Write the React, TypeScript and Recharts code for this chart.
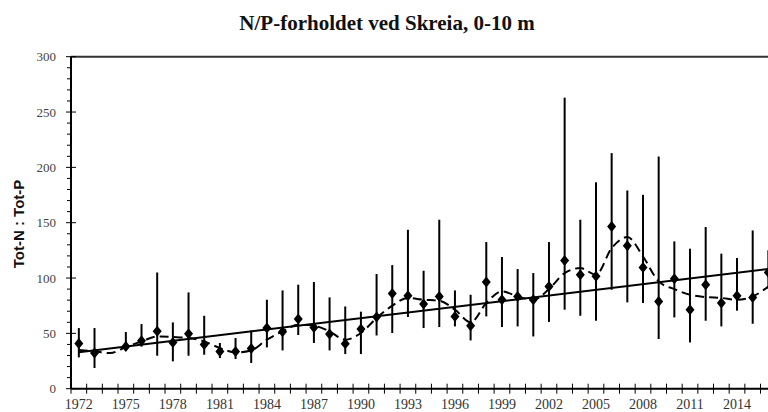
import React from 'react';
import { ComposedChart, Line, XAxis, YAxis, ErrorBar, ReferenceLine } from 'recharts';

const years = [
  1972, 1973, 1974, 1975, 1976, 1977, 1978, 1979, 1980, 1981, 1982, 1983, 1984, 1985, 1986,
  1987, 1988, 1989, 1990, 1991, 1992, 1993, 1994, 1995, 1996, 1997, 1998, 1999, 2000, 2001,
  2002, 2003, 2004, 2005, 2006, 2007, 2008, 2009, 2010, 2011, 2012, 2013, 2014, 2015, 2016,
];

const ratio: (number | null)[] = [
  40.9, 32.2, null, 38.2, 43.4, 51.8, 41.8, 49.7, 40.0, 33.7, 33.7, 36.4, 54.8, 51.5, 63.0,
  55.4, 49.4, 40.6, 53.9, 64.8, 86.1, 84.0, 76.5, 83.4, 65.3, 56.9, 96.4, 80.4, 83.4, 80.4,
  92.4, 115.9, 103.0, 101.5, 146.6, 129.2, 109.6, 78.9, 99.4, 71.4, 93.9, 77.4, 84.0, 82.5, 105.1,
];

const low: (number | null)[] = [
  28.3, 18.7, null, 35, 38, 29.8, 24.7, 29.8, 30.7, 27.7, 26.8, 23.2, 37.3, 34.6, 48.5,
  41.3, 34.6, 31.3, 31.3, 48.1, 50.3, 64.8, 54.8, 55.7, 56.3, 43.6, 65.3, 55.7, 56.3, 47.2,
  60.3, 71.4, 65.9, 61.4, 89.4, 78, 77.4, 44.9, 64.4, 41.8, 61.4, 56.3, 70.5, 58.7, 90,
];

const high: (number | null)[] = [
  54.8, 54.8, null, 51.2, 58.4, 105, 59.9, 87, 65.9, 41.3, 45.8, 52.4, 80.4, 88.8, 94,
  96.4, 82.5, 74.3, 69.6, 103.6, 111.7, 143.6, 106.6, 152.7, 88.8, 84.9, 132.5, 119, 108.1, 104.5,
  132.5, 263, 152.7, 186.5, 212.9, 179.1, 175.2, 209.8, 133.1, 126.5, 146.1, 122, 118.1, 143, 125,
];

const smooth = [
  35, 33.7, 32.2, 37.7, 42.7, 47.2, 46.7, 45.8, 42.7, 36.7, 32.8, 34.6, 44.3, 51.8, 57.8,
  56.9, 51.8, 44.3, 50.3, 63.9, 75, 82, 80.4, 79.5, 71.4, 60, 77.4, 87.9, 83.4, 80.4,
  90, 104.5, 109, 103, 127, 137, 119.5, 97, 90, 84.9, 82.8, 82, 80.4, 83.4, 92.4,
];

const trendYears = [1972, 2016];
const trendValues = [33, 108.2];

const xLabelYears = [1972, 1975, 1978, 1981, 1984, 1987, 1990, 1993, 1996, 1999, 2002, 2005, 2008, 2011, 2014];
const yMajorTicks = [0, 50, 100, 150, 200, 250, 300];
const yAllTicks = Array.from({ length: 31 }, (_, i) => i * 10);

const data = years.map((year, i) => {
  const v = ratio[i];
  const lo = low[i];
  const hi = high[i];
  const ti = trendYears.indexOf(year);
  return {
    year,
    ratio: v,
    err: v != null && lo != null && hi != null ? [v - lo, hi - v] : undefined,
    smooth: smooth[i],
    trend: ti >= 0 ? trendValues[ti] : null,
  };
});

const CHART_W = 790;
const CHART_H = 412;
const PLOT_LEFT = 71;
const PLOT_TOP = 56.7;
const PLOT_RIGHT = 776.2;
const PLOT_BOTTOM = 388.7;
const HALF = (PLOT_RIGHT - PLOT_LEFT) / years.length / 2;

const serifStyle = { fontFamily: "'Liberation Serif', 'DejaVu Serif', serif" };
const sansStyle = { fontFamily: "'Liberation Sans', Arial, sans-serif" };

const XTick = (props: any) => {
  const { x, y, payload } = props;
  const v = payload.value;
  const last = v === years[years.length - 1];
  return (
    <g>
      <line x1={x - HALF} x2={x - HALF} y1={y - 5} y2={y + 5} stroke="#000" strokeWidth={1} />
      {last && <line x1={x + HALF} x2={x + HALF} y1={y - 5} y2={y + 5} stroke="#000" strokeWidth={1} />}
      {xLabelYears.includes(v) && (
        <text x={x} y={y + 20.3} textAnchor="middle" fontSize={14} style={serifStyle} fill="#333">
          {v}
        </text>
      )}
    </g>
  );
};

const YTick = (props: any) => {
  const { x, y, payload } = props;
  const v = payload.value;
  const major = yMajorTicks.includes(v);
  return (
    <g>
      {major ? (
        <line x1={x - 5} x2={x + 5} y1={y} y2={y} stroke="#000" strokeWidth={1} />
      ) : (
        <line x1={x - 4} x2={x} y1={y} y2={y} stroke="#000" strokeWidth={1} />
      )}
      {major && (
        <text x={x - 15} y={y + 4.5} textAnchor="end" fontSize={13} style={serifStyle} fill="#444">
          {v}
        </text>
      )}
    </g>
  );
};

const Diamond = (props: any) => {
  const { cx, cy, index } = props;
  if (cx == null || cy == null || props.value == null) return <g key={`d-${index}`} />;
  return (
    <polygon
      key={`d-${index}`}
      points={`${cx},${cy - 5.5} ${cx + 4.5},${cy} ${cx},${cy + 5.5} ${cx - 4.5},${cy}`}
      fill="#000"
      stroke="none"
    />
  );
};

export default function App() {
  return (
    <div style={{ position: 'fixed', left: 0, top: 0, width: 768, height: 412, overflow: 'hidden', background: '#fff' }}>
      <ComposedChart
        width={CHART_W}
        height={CHART_H}
        data={data}
        margin={{ top: PLOT_TOP, right: CHART_W - PLOT_RIGHT, bottom: 0, left: 0 }}
      >
        <XAxis
          dataKey="year"
          type="number"
          domain={[years[0] - 0.5, years[years.length - 1] + 0.5]}
          ticks={years}
          interval={0}
          tickSize={0}
          tickMargin={0}
          tickLine={false}
          axisLine={{ stroke: '#000', strokeWidth: 2 }}
          tick={XTick}
          height={CHART_H - PLOT_BOTTOM}
          allowDataOverflow
        />
        <YAxis
          type="number"
          domain={[0, 300]}
          ticks={yAllTicks}
          interval={0}
          tickSize={0}
          tickMargin={0}
          tickLine={false}
          axisLine={{ stroke: '#000', strokeWidth: 2 }}
          tick={YTick}
          width={PLOT_LEFT}
        />
        <ReferenceLine y={300} stroke="#333" strokeWidth={2} ifOverflow="visible" />
        <ReferenceLine x={years[years.length - 1] + 0.5} stroke="#333" strokeWidth={2} ifOverflow="visible" />
        <Line
          dataKey="trend"
          type="linear"
          connectNulls
          stroke="#000"
          strokeWidth={2}
          dot={false}
          activeDot={false}
          isAnimationActive={false}
        />
        <Line
          dataKey="smooth"
          type="monotone"
          stroke="#000"
          strokeWidth={2}
          strokeDasharray="9 5"
          dot={false}
          activeDot={false}
          isAnimationActive={false}
        />
        <Line
          dataKey="ratio"
          stroke="none"
          dot={Diamond}
          activeDot={false}
          isAnimationActive={false}
        >
          <ErrorBar dataKey="err" direction="y" width={0} stroke="#000" strokeWidth={2} isAnimationActive={false} />
        </Line>
      </ComposedChart>
      <svg width={768} height={412} style={{ position: 'absolute', left: 0, top: 0, pointerEvents: 'none' }}>
        <text x={387} y={30} textAnchor="middle" fontSize={21} fontWeight="bold" style={serifStyle} fill="#111">
          N/P-forholdet ved Skreia, 0-10 m
        </text>
        <text
          x={24}
          y={224}
          textAnchor="middle"
          fontSize={15}
          fontWeight="bold"
          style={sansStyle}
          fill="#111"
          transform="rotate(-90, 24, 224)"
        >
          Tot-N : Tot-P
        </text>
      </svg>
    </div>
  );
}
